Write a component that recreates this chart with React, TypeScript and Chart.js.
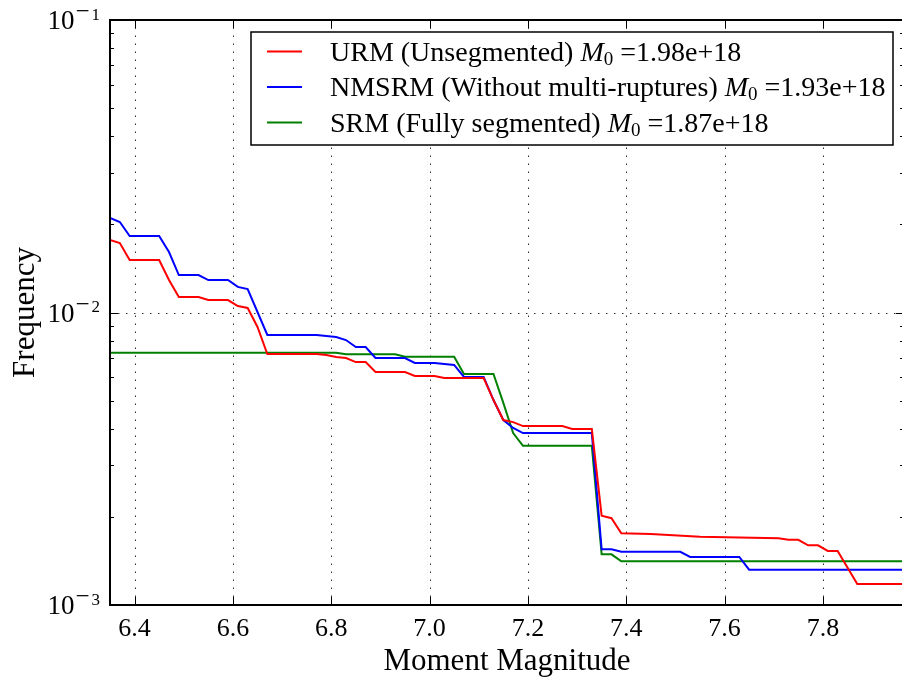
import React, { useEffect, useRef } from "react";
import { Chart, registerables } from "chart.js";

Chart.register(...registerables);

const SERIF = '"Liberation Serif", "Times New Roman", serif';

// Magnitude axis
const xMin = 6.35;
const xMax = 7.965;
const xTickValues = [6.4, 6.6, 6.8, 7.0, 7.2, 7.4, 7.6, 7.8];
const xTickLabels = ["6.4", "6.6", "6.8", "7.0", "7.2", "7.4", "7.6", "7.8"];

// Frequency axis (logarithmic)
const yMin = 0.001;
const yMax = 0.1;
const yDecades = [0.001, 0.01, 0.1];
const yDecadeExponents = ["3", "2", "1"]; // shown as negative powers of ten

// URM (Unsegmented)
const urmMag = [
  6.35, 6.37, 6.39, 6.45, 6.47, 6.49, 6.53, 6.55, 6.59, 6.61, 6.63, 6.65, 6.67,
  6.77, 6.79, 6.81, 6.83, 6.85, 6.87, 6.89, 6.95, 6.97, 7.01, 7.03, 7.11, 7.13,
  7.15, 7.17, 7.19, 7.27, 7.29, 7.33, 7.35, 7.37, 7.39, 7.45, 7.55, 7.71, 7.73,
  7.75, 7.77, 7.79, 7.81, 7.83, 7.87, 7.97,
];
const urmFreq = [
  0.01769, 0.01728, 0.01512, 0.01512, 0.01291, 0.0113, 0.0113, 0.01103, 0.01103,
  0.01052, 0.01036, 0.00892, 0.00721, 0.00721, 0.00716, 0.00705, 0.00699,
  0.00677, 0.00677, 0.00626, 0.00626, 0.00607, 0.00607, 0.00597, 0.00597,
  0.00502, 0.00429, 0.00422, 0.00409, 0.00409, 0.004, 0.004, 0.00202, 0.00198,
  0.00176, 0.00175, 0.00171, 0.00169, 0.00167, 0.00167, 0.0016, 0.0016, 0.00153,
  0.00153, 0.00118, 0.00118,
];

// NMSRM (Without multi-ruptures)
const nmsrmMag = [
  6.35, 6.37, 6.39, 6.45, 6.47, 6.49, 6.53, 6.55, 6.59, 6.61, 6.63, 6.65, 6.67,
  6.77, 6.79, 6.81, 6.83, 6.85, 6.87, 6.89, 6.95, 6.97, 7.01, 7.05, 7.07, 7.11,
  7.13, 7.15, 7.17, 7.19, 7.33, 7.35, 7.37, 7.39, 7.51, 7.53, 7.63, 7.65, 7.97,
];
const nmsrmFreq = [
  0.02104, 0.02039, 0.01826, 0.01826, 0.0161, 0.01343, 0.01343, 0.01291,
  0.01291, 0.01223, 0.01203, 0.01004, 0.00838, 0.00838, 0.00831, 0.00825,
  0.00805, 0.00762, 0.00762, 0.00699, 0.00699, 0.00672, 0.00672, 0.00662,
  0.00602, 0.00602, 0.00502, 0.00429, 0.00403, 0.00387, 0.00387, 0.00155,
  0.00155, 0.00152, 0.00152, 0.00146, 0.00146, 0.00132, 0.00132,
];

// SRM (Fully segmented)
const srmMag = [
  6.35, 6.81, 6.83, 6.93, 6.95, 7.05, 7.07, 7.13, 7.15, 7.17, 7.19, 7.33, 7.35,
  7.37, 7.39, 7.97,
];
const srmFreq = [
  0.00729, 0.00729, 0.0072, 0.0072, 0.00706, 0.00706, 0.00616, 0.00616, 0.00491,
  0.00387, 0.0035, 0.0035, 0.00149, 0.00149, 0.00141, 0.00141,
];

const seriesNames = [
  "URM (Unsegmented)",
  "NMSRM (Without multi-ruptures)",
  "SRM (Fully segmented)",
];
const seriesM0 = ["1.98e+18", "1.93e+18", "1.87e+18"];
const seriesColors = ["#ff0000", "#0000ff", "#008000"];

const xTitle = "Moment Magnitude";
const yTitle = "Frequency";

const toPoints = (mag: number[], freq: number[]) =>
  mag.map((m, i) => ({ x: m, y: freq[i] }));

// minor tick positions 2..9 within each decade
const yMinorTicks: number[] = [];
for (let d = 0; d < yDecades.length - 1; d++) {
  for (let k = 2; k <= 9; k++) yMinorTicks.push(yDecades[d] * k);
}

const framePlugin = {
  id: "frameAndLabels",
  beforeDatasetsDraw(chart: any) {
    const { ctx, chartArea: a, scales } = chart;
    const xs = scales.x;
    const ys = scales.y;
    ctx.save();
    ctx.strokeStyle = "#333";
    ctx.lineWidth = 1;
    ctx.setLineDash([1.5, 6.5]);
    for (const v of xTickValues) {
      const px = Math.round(xs.getPixelForValue(v)) + 0.5;
      ctx.beginPath();
      ctx.moveTo(px, a.bottom);
      ctx.lineTo(px, a.top);
      ctx.stroke();
    }
    for (const v of yDecades) {
      if (v <= yMin || v >= yMax) continue;
      const py = Math.round(ys.getPixelForValue(v)) + 0.5;
      ctx.beginPath();
      ctx.moveTo(a.left, py);
      ctx.lineTo(a.right, py);
      ctx.stroke();
    }
    ctx.restore();
  },
  afterDatasetsDraw(chart: any) {
    const { ctx, chartArea: a, scales } = chart;
    const xs = scales.x;
    const ys = scales.y;
    ctx.save();
    ctx.setLineDash([]);

    // tick marks, pointing inward
    ctx.strokeStyle = "#000";
    ctx.lineWidth = 1;
    for (const v of xTickValues) {
      const px = Math.round(xs.getPixelForValue(v)) + 0.5;
      ctx.beginPath();
      ctx.moveTo(px, a.bottom);
      ctx.lineTo(px, a.bottom - 8);
      ctx.moveTo(px, a.top);
      ctx.lineTo(px, a.top + 8);
      ctx.stroke();
    }
    const yTick = (v: number, len: number) => {
      const py = Math.round(ys.getPixelForValue(v)) + 0.5;
      ctx.beginPath();
      ctx.moveTo(a.left, py);
      ctx.lineTo(a.left + len, py);
      ctx.moveTo(a.right, py);
      ctx.lineTo(a.right - len, py);
      ctx.stroke();
    };
    yMinorTicks.forEach((v) => yTick(v, 4));
    yDecades.forEach((v) => yTick(v, 8));

    // frame
    ctx.lineWidth = 2;
    ctx.strokeRect(a.left, a.top, a.right - a.left, a.bottom - a.top);

    // x tick labels
    ctx.fillStyle = "#000";
    ctx.font = `26px ${SERIF}`;
    ctx.textAlign = "center";
    ctx.textBaseline = "alphabetic";
    xTickValues.forEach((v, i) => {
      ctx.fillText(xTickLabels[i], xs.getPixelForValue(v), a.bottom + 31);
    });

    // y tick labels: 10 with a raised negative exponent
    ctx.textAlign = "left";
    yDecades.forEach((v, i) => {
      const py = ys.getPixelForValue(v);
      ctx.font = `27px ${SERIF}`;
      const wBase = ctx.measureText("10").width;
      ctx.font = `25px ${SERIF}`;
      const wMinus = ctx.measureText("\u2212").width;
      ctx.font = `17px ${SERIF}`;
      const wExp = ctx.measureText(yDecadeExponents[i]).width;
      const total = wBase + 1 + wMinus + 2 + wExp;
      const x0 = a.left - 10 - total;
      ctx.font = `27px ${SERIF}`;
      ctx.fillText("10", x0, py + 9);
      ctx.font = `25px ${SERIF}`;
      ctx.fillText("\u2212", x0 + wBase + 1, py - 1);
      ctx.font = `17px ${SERIF}`;
      ctx.fillText(yDecadeExponents[i], x0 + wBase + 1 + wMinus + 2, py - 0.5);
    });

    // axis titles
    ctx.font = `31px ${SERIF}`;
    ctx.textAlign = "center";
    ctx.fillText(xTitle, (a.left + a.right) / 2, a.bottom + 65);
    ctx.save();
    ctx.translate(34, (a.top + a.bottom) / 2);
    ctx.rotate(-Math.PI / 2);
    ctx.fillText(yTitle, 0, 0);
    ctx.restore();

    // legend
    const bl = a.left + 141;
    const bt = a.top + 12;
    const bw = 642;
    const bh = 113;
    ctx.fillStyle = "#fff";
    ctx.fillRect(bl, bt, bw, bh);
    ctx.strokeStyle = "#000";
    ctx.lineWidth = 1.5;
    ctx.strokeRect(bl, bt, bw, bh);
    ctx.textAlign = "left";
    seriesNames.forEach((name, i) => {
      const ly = bt + 19.5 + i * 35.5;
      ctx.strokeStyle = seriesColors[i];
      ctx.lineWidth = 2;
      ctx.beginPath();
      ctx.moveTo(bl + 16, ly);
      ctx.lineTo(bl + 51, ly);
      ctx.stroke();
      ctx.fillStyle = "#000";
      let tx = bl + 79;
      const base = ly + 9;
      ctx.font = `28px ${SERIF}`;
      ctx.fillText(name + " ", tx, base);
      tx += ctx.measureText(name + " ").width;
      ctx.font = `italic 28px ${SERIF}`;
      ctx.fillText("M", tx, base);
      tx += ctx.measureText("M").width;
      ctx.font = `19px ${SERIF}`;
      ctx.fillText("0", tx, base + 4);
      tx += ctx.measureText("0").width;
      ctx.font = `28px ${SERIF}`;
      ctx.fillText(" =" + seriesM0[i], tx, base);
    });
    ctx.restore();
  },
};

export default function App() {
  const canvasRef = useRef<HTMLCanvasElement | null>(null);

  useEffect(() => {
    const canvas = canvasRef.current;
    if (!canvas) return;
    const series = [
      toPoints(urmMag, urmFreq),
      toPoints(nmsrmMag, nmsrmFreq),
      toPoints(srmMag, srmFreq),
    ];
    const chart = new Chart(canvas, {
      type: "line",
      data: {
        datasets: series.map((pts, i) => ({
          label: seriesNames[i],
          data: pts,
          borderColor: seriesColors[i],
          backgroundColor: seriesColors[i],
          borderWidth: 2,
          pointRadius: 0,
          tension: 0,
          fill: false,
        })),
      },
      options: {
        animation: false,
        responsive: false,
        devicePixelRatio: 1,
        layout: { padding: { left: 0, top: 20, right: 2, bottom: 0 } },
        plugins: {
          legend: { display: false },
          tooltip: { enabled: false },
        },
        scales: {
          x: {
            type: "linear",
            min: xMin,
            max: xMax,
            grid: { display: false },
            border: { display: false },
            ticks: { display: false },
            afterFit: (s: any) => {
              s.height = 79;
            },
          },
          y: {
            type: "logarithmic",
            min: yMin,
            max: yMax,
            grid: { display: false },
            border: { display: false },
            ticks: { display: false },
            afterFit: (s: any) => {
              s.width = 110;
            },
          },
        },
      } as any,
      plugins: [framePlugin],
    });
    return () => chart.destroy();
  }, []);

  return (
    <div
      style={{
        position: "fixed",
        left: 0,
        top: 0,
        width: 902,
        height: 684,
        overflow: "hidden",
        background: "#fff",
      }}
    >
      <canvas ref={canvasRef} width={906} height={684} style={{ display: "block" }} />
    </div>
  );
}
